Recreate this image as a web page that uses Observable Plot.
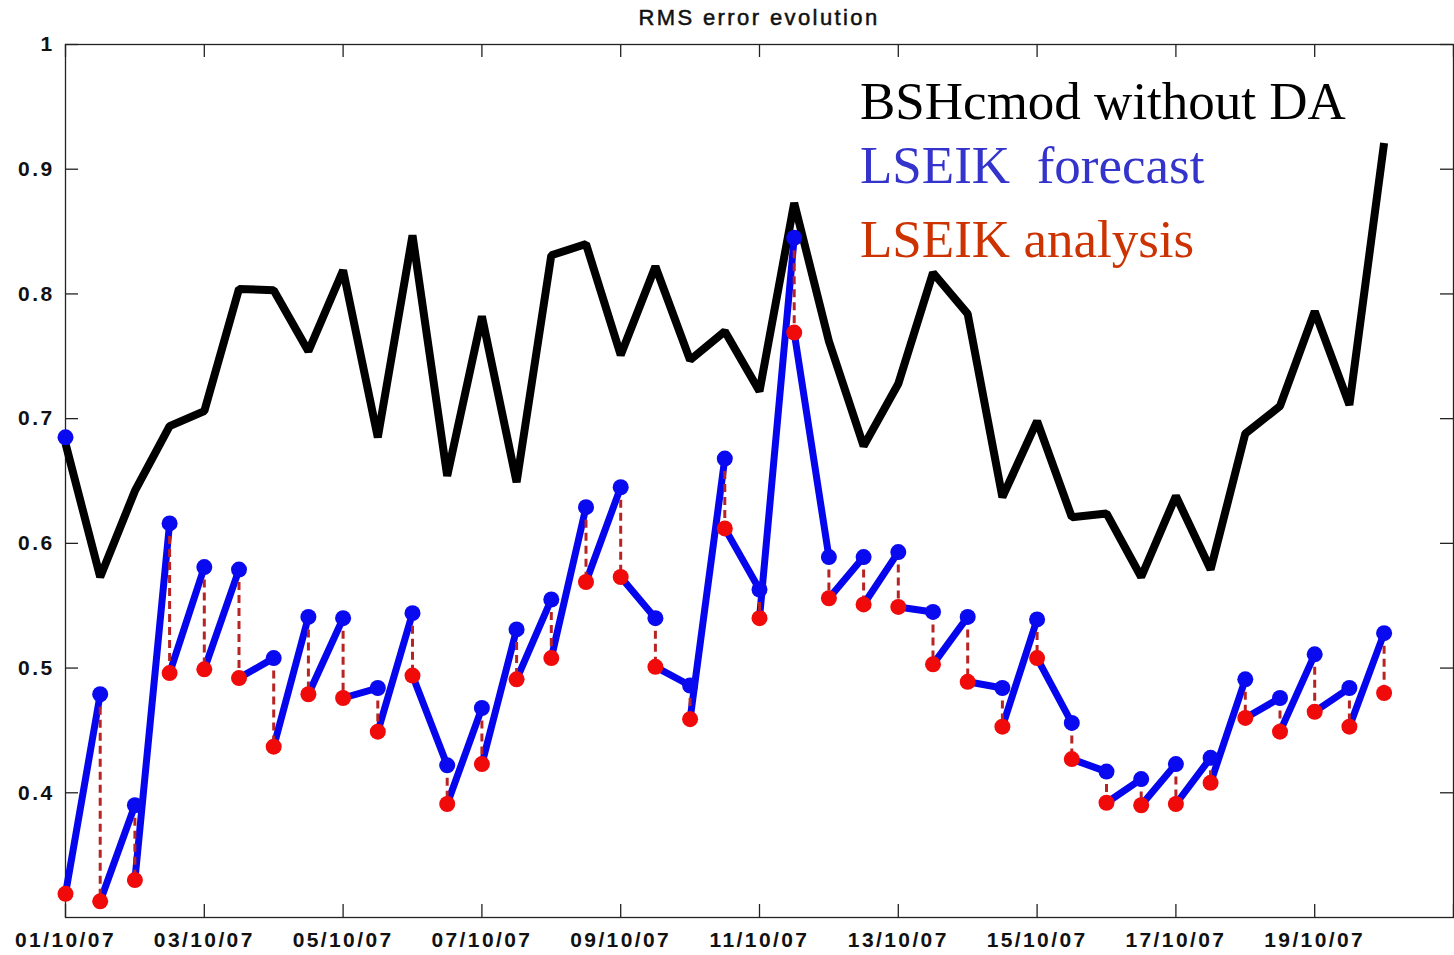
<!DOCTYPE html>
<html>
<head>
<meta charset="utf-8">
<script src="https://cdn.jsdelivr.net/npm/d3@7"></script>
<script src="https://cdn.jsdelivr.net/npm/@observablehq/plot@0.6"></script>
<style>
  html, body { margin: 0; padding: 0; background: #fff; }
  #wrap { position: relative; width: 1454px; height: 955px; }
  #title { position: absolute; left: 0; width: 1518px; top: 7px; text-align: center;
           font-family: "Liberation Sans", Arial, sans-serif; font-size: 22px; line-height: 22px;
           letter-spacing: 2.4px; color: #111; -webkit-text-stroke: 0.5px #111; }
  .leg { position: absolute; left: 860px; font-family: "Liberation Serif", "Times New Roman", serif;
         font-size: 53px; line-height: 53px; white-space: pre; }
  svg text { letter-spacing: 2.4px; }
</style>
</head>
<body>
<div id="wrap">
  <div id="title">RMS error evolution</div>
  <div class="leg" style="top:75px;color:#000">BSHcmod without DA</div>
  <div class="leg" style="top:139px;color:#3434cc">LSEIK  forecast</div>
  <div class="leg" style="top:213px;color:#cc3300">LSEIK analysis</div>
</div>
<script>
// Time stamps (every 12 hours)
const times = [
  "2007-10-01T00:00Z","2007-10-01T12:00Z","2007-10-02T00:00Z","2007-10-02T12:00Z",
  "2007-10-03T00:00Z","2007-10-03T12:00Z","2007-10-04T00:00Z","2007-10-04T12:00Z",
  "2007-10-05T00:00Z","2007-10-05T12:00Z","2007-10-06T00:00Z","2007-10-06T12:00Z",
  "2007-10-07T00:00Z","2007-10-07T12:00Z","2007-10-08T00:00Z","2007-10-08T12:00Z",
  "2007-10-09T00:00Z","2007-10-09T12:00Z","2007-10-10T00:00Z","2007-10-10T12:00Z",
  "2007-10-11T00:00Z","2007-10-11T12:00Z","2007-10-12T00:00Z","2007-10-12T12:00Z",
  "2007-10-13T00:00Z","2007-10-13T12:00Z","2007-10-14T00:00Z","2007-10-14T12:00Z",
  "2007-10-15T00:00Z","2007-10-15T12:00Z","2007-10-16T00:00Z","2007-10-16T12:00Z",
  "2007-10-17T00:00Z","2007-10-17T12:00Z","2007-10-18T00:00Z","2007-10-18T12:00Z",
  "2007-10-19T00:00Z","2007-10-19T12:00Z","2007-10-20T00:00Z"
];
// BSHcmod without DA
const freeRun = [
  0.680,0.573,0.642,0.694,0.706,0.804,0.803,0.754,0.819,0.685,
  0.847,0.654,0.782,0.649,0.831,0.840,0.751,0.822,0.747,0.770,
  0.722,0.873,0.762,0.678,0.728,0.817,0.784,0.637,0.698,0.621,
  0.624,0.573,0.638,0.579,0.688,0.710,0.786,0.711,0.921
];
// LSEIK forecast
const forecast = [
  0.685,0.479,0.390,0.616,0.581,0.579,0.508,0.541,0.540,0.484,
  0.544,0.422,0.468,0.531,0.555,0.629,0.645,0.540,0.486,0.668,
  0.563,0.845,0.589,0.589,0.593,0.545,0.541,0.484,0.539,0.456,
  0.417,0.411,0.423,0.428,0.491,0.476,0.511,0.484,0.528
];
// LSEIK analysis
const analysis = [
  0.319,0.313,0.330,0.496,0.499,0.492,0.437,0.479,0.476,0.449,
  0.494,0.391,0.423,0.491,0.508,0.569,0.573,0.501,0.459,0.612,
  0.540,0.769,0.556,0.551,0.549,0.503,0.489,0.453,0.508,0.427,
  0.392,0.390,0.391,0.408,0.460,0.449,0.465,0.453,0.480
];
const xDomain = ["2007-10-01T00:00Z", "2007-10-21T00:00Z"];
const xTicks = ["2007-10-01","2007-10-03","2007-10-05","2007-10-07","2007-10-09",
                "2007-10-11","2007-10-13","2007-10-15","2007-10-17","2007-10-19","2007-10-21"];
const xTickLabels = ["01/10/07","03/10/07","05/10/07","07/10/07","09/10/07",
                     "11/10/07","13/10/07","15/10/07","17/10/07","19/10/07",""];
const yTicks = [0.4, 0.5, 0.6, 0.7, 0.8, 0.9, 1];
const yTickLabels = ["0.4","0.5","0.6","0.7","0.8","0.9","1"];

const T = times.map(s => new Date(s));
const pts = T.map((t, i) => ({t, free: freeRun[i], fc: forecast[i], an: analysis[i]}));
const segs = pts.slice(0, -1).map((p, i) => ({t1: p.t, y1: p.an, t2: pts[i + 1].t, y2: pts[i + 1].fc}));
const xt = xTicks.map(s => new Date(s + "T00:00Z"));
const xLab = new Map(xt.map((d, i) => [+d, xTickLabels[i]]));
const yLab = new Map(yTicks.map((v, i) => [v, yTickLabels[i]]));

const W = 1454, H = 955, mL = 65, mR = 1, mT = 44, mB = 38;
const innerW = W - mL - mR, innerH = H - mT - mB, tk = 13;

const chart = Plot.plot({
  width: W, height: H,
  marginLeft: mL, marginRight: mR, marginTop: mT, marginBottom: mB,
  x: {type: "utc", domain: xDomain.map(s => new Date(s))},
  y: {domain: [0.3, 1]},
  style: {background: "#fff"},
  marks: [
    Plot.frame({stroke: "#222", strokeWidth: 1.3}),
    // inward ticks on all four sides
    Plot.tickX(xt, {x: d => d, stroke: "#222", strokeWidth: 1.3, insetTop: innerH - tk}),
    Plot.tickX(xt, {x: d => d, stroke: "#222", strokeWidth: 1.3, insetBottom: innerH - tk}),
    Plot.tickY(yTicks, {y: d => d, stroke: "#222", strokeWidth: 1.3, insetRight: innerW - tk}),
    Plot.tickY(yTicks, {y: d => d, stroke: "#222", strokeWidth: 1.3, insetLeft: innerW - tk}),
    Plot.axisX({ticks: xt, tickSize: 0, tickPadding: 15, tickFormat: d => xLab.get(+d),
      fontSize: 21, fontWeight: "bold", fontFamily: "Liberation Sans, Arial, sans-serif", fill: "#111", label: null}),
    Plot.axisY({ticks: yTicks, tickSize: 0, tickPadding: 11, tickFormat: d => yLab.get(d),
      fontSize: 21, fontWeight: "bold", fontFamily: "Liberation Sans, Arial, sans-serif", fill: "#111", label: null}),
    Plot.line(pts, {x: "t", y: "free", stroke: "#000", strokeWidth: 8,
      strokeLinejoin: "miter", strokeLinecap: "butt"}),
    Plot.link(segs, {x1: "t1", y1: "y1", x2: "t2", y2: "y2", stroke: "#0606ee", strokeWidth: 7,
      strokeLinecap: "round"}),
    Plot.ruleX(pts.slice(1), {x: "t", y1: "fc", y2: "an", stroke: "#b82424", strokeWidth: 3,
      strokeDasharray: "8,5"}),
    Plot.dot(pts, {x: "t", y: "an", r: 8, fill: "#f00a0a", stroke: "none"}),
    Plot.dot(pts, {x: "t", y: "fc", r: 8, fill: "#0a0af0", stroke: "none"})
  ]
});
chart.style.position = "absolute";
chart.style.left = "0";
chart.style.top = "0";
document.getElementById("wrap").prepend(chart);
</script>
</body>
</html>
